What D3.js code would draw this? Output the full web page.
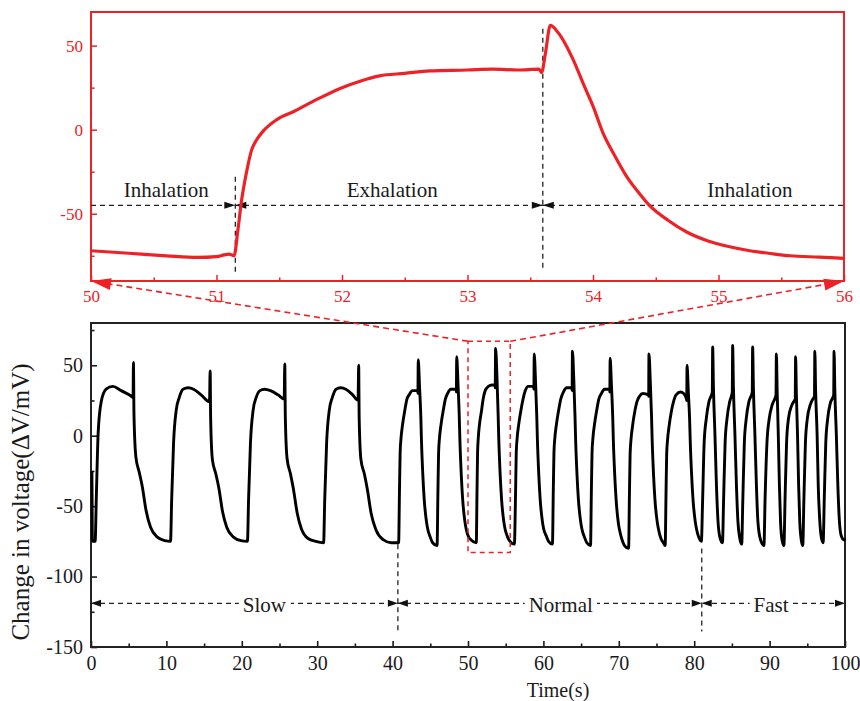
<!DOCTYPE html>
<html><head><meta charset="utf-8">
<script src="https://cdn.jsdelivr.net/npm/d3@7"></script>
<style>body{margin:0;background:#fff}svg{display:block}</style>
</head><body>
<svg id="c" width="860" height="701"></svg>
<script>
// ---------------- DATA ----------------
// zoomed detail (50–56 s): [time s, ΔV mV]
const detailTrace = [
[50.0,-72],[50.3,-73.5],[50.6,-75],[50.85,-76],[51.0,-75.5],[51.06,-74.5],[51.1,-74],[51.14,-75],
[51.17,-60],[51.2,-42],[51.24,-25],[51.28,-12],[51.32,-6],[51.37,-1],[51.48,6],[51.62,11],[51.8,18],
[52.0,25],[52.15,29],[52.3,32],[52.5,33.5],[52.7,35],[53.0,35.5],[53.2,36],[53.4,35.5],[53.57,36],
[53.59,34],[53.62,45],[53.66,62],[53.72,58],[53.84,42],[53.93,26],[54.0,14],[54.08,-2],[54.17,-15],
[54.27,-28],[54.36,-37],[54.45,-45],[54.6,-54],[54.75,-61],[54.91,-66],[55.08,-69.5],[55.25,-72],
[55.4,-73.5],[55.57,-75],[55.8,-75.8],[56.0,-76.5]
];
// full record (0–100 s): [time s, ΔV mV]
const overviewTrace = [
// slow
[0.12,-25],[0.18,-74],[0.55,-75],[0.7,-45],[0.95,2],[1.35,24],[2.0,33],[2.9,35],[4.0,32],[5.35,28],[5.58,27],[5.63,52],[5.7,15],[5.95,-15],[6.4,-26],[6.8,-36],[7.3,-53],[7.9,-65],[8.8,-72],[9.8,-74.5],[10.55,-75],
[10.7,-45],[10.95,-5],[11.3,18],[11.7,27],[12.2,33],[12.9,34],[13.6,33],[14.6,29],[15.72,24],[15.8,46],[15.87,12],[16.1,-17],[16.55,-27],[16.95,-37],[17.45,-54],[18.0,-65],[18.9,-72],[19.9,-74.5],[20.75,-75],
[20.9,-45],[21.15,-5],[21.5,18],[21.9,27],[22.4,32],[23.0,33],[23.8,32],[24.8,29],[25.62,26],[25.7,51],[25.77,14],[26.0,-16],[26.45,-27],[26.85,-38],[27.35,-55],[27.9,-66],[28.8,-73],[29.8,-75],[30.85,-76],
[31.0,-45],[31.25,-5],[31.6,18],[32.0,27],[32.5,33],[33.1,34],[33.8,33],[34.7,29],[35.42,25],[35.5,50],[35.57,12],[35.8,-17],[36.25,-27],[36.65,-38],[37.15,-55],[37.8,-67],[38.8,-74],[39.8,-76],[40.8,-76],
// normal
[40.91,-40],[41.0,-12],[41.13,-1],[41.3,7],[41.65,19],[41.9,26],[42.2,29],[42.6,32],[43.33,32],[43.36,30],[43.4,54],[43.58,34],[43.74,14],[43.82,-2],[44.01,-28],[44.19,-45],[44.49,-61],[44.65,-66],[44.99,-72],[45.31,-76],[45.9,-78],
[46.01,-40],[46.1,-12],[46.23,-1],[46.4,7],[46.75,19],[47.0,26],[47.3,30],[47.7,33],[48.43,33],[48.46,31],[48.5,56],[48.68,36],[48.84,14],[48.92,-2],[49.11,-28],[49.29,-45],[49.59,-61],[49.75,-66],[50.09,-72],[50.41,-74],[51.1,-76],
[51.19,-42],[51.27,-12],[51.37,-1],[51.48,6],[51.8,18],[52.01,26],[52.28,32],[52.7,35],[53.2,36],[53.57,36],[53.61,34],[53.66,62],[53.84,42],[54.0,14],[54.08,-2],[54.27,-28],[54.45,-45],[54.75,-61],[54.91,-66],[55.25,-72],[55.57,-75],[56.15,-77],
[56.31,-40],[56.4,-12],[56.53,-1],[56.7,7],[57.05,19],[57.3,26],[57.6,32],[58.0,35],[58.71,35],[58.74,33],[58.78,58],[58.96,38],[59.12,14],[59.2,-2],[59.39,-28],[59.57,-45],[59.87,-61],[60.03,-66],[60.37,-71],[60.69,-75],[61.2,-77],
[61.31,-40],[61.4,-12],[61.53,-1],[61.7,7],[62.05,19],[62.3,26],[62.65,31],[63.1,34],[63.78,34],[63.81,32],[63.85,60],[64.03,40],[64.19,14],[64.27,-2],[64.46,-28],[64.64,-45],[64.94,-61],[65.1,-66],[65.44,-72],[65.76,-76],[66.25,-78],
[66.36,-40],[66.45,-12],[66.58,-1],[66.75,7],[67.1,19],[67.35,26],[67.7,30],[68.1,33],[68.78,33],[68.81,31],[68.85,55],[69.03,35],[69.19,14],[69.27,-2],[69.46,-28],[69.64,-45],[69.94,-62],[70.1,-67],[70.44,-74],[70.76,-78],[71.3,-80],
[71.41,-42],[71.5,-13],[71.63,-2],[71.8,6],[72.15,18],[72.4,24],[72.75,28],[73.2,30],[73.93,29],[73.96,28],[74.0,58],[74.18,38],[74.34,14],[74.42,-2],[74.61,-28],[74.79,-45],[75.09,-61],[75.25,-66],[75.59,-73],[75.91,-76],[76.15,-78],
[76.26,-42],[76.35,-13],[76.48,-2],[76.65,6],[77.0,18],[77.25,24],[77.6,29],[78.2,31],[78.6,30],[78.98,26],[79.01,25],[79.05,50],[79.23,30],[79.39,12],[79.47,-3],[79.66,-28],[79.84,-45],[80.14,-61],[80.3,-66],[80.6,-72],[80.95,-75],
// fast
[81.12,-45],[81.32,-5],[81.6,12],[81.95,24],[82.3,29],[82.4,31],[82.45,63],[82.55,35],[82.75,1],[82.95,-35],[83.15,-60],[83.4,-72],[83.75,-76],
[83.9,-45],[84.1,-5],[84.35,12],[84.7,24],[84.98,29],[85.05,31],[85.1,64],[85.2,35],[85.4,1],[85.6,-35],[85.8,-61],[86.05,-73],[86.3,-77],
[86.45,-45],[86.65,-5],[86.9,12],[87.25,24],[87.6,29],[87.7,31],[87.75,63],[87.85,35],[88.05,1],[88.25,-35],[88.45,-61],[88.8,-74],[89.25,-78],
[89.4,-45],[89.65,-5],[89.95,12],[90.35,22],[90.75,27],[90.85,29],[90.9,58],[91.0,33],[91.15,1],[91.3,-35],[91.45,-61],[91.65,-74],[91.9,-78],
[92.05,-45],[92.25,-5],[92.5,12],[92.9,21],[93.3,25],[93.4,26],[93.45,56],[93.55,30],[93.7,1],[93.85,-35],[94.0,-61],[94.2,-74],[94.4,-78],
[94.55,-45],[94.75,-5],[95.0,12],[95.4,22],[95.85,27],[95.95,28],[96.0,60],[96.1,33],[96.3,1],[96.45,-35],[96.65,-60],[96.85,-72],[97.1,-76],
[97.25,-45],[97.45,-5],[97.7,12],[98.05,23],[98.45,28],[98.5,29],[98.55,60],[98.65,33],[98.85,1],[99.05,-35],[99.25,-60],[99.5,-71],[99.9,-74],[100,-73]
];
const detailXTicks = [50,51,52,53,54,55,56];
const detailXMinor = [50.5,51.5,52.5,53.5,54.5,55.5];
const detailYTicks = [-50,0,50];
const detailYMinor = [-75,-25,25];
const overviewXTicks = [0,10,20,30,40,50,60,70,80,90,100];
const overviewXMinor = [5,15,25,35,45,55,65,75,85,95];
const overviewYTicks = [-150,-100,-50,0,50];
const overviewYMinor = [-125,-75,-25,25,75];
const detailPhaseLabels = ["Inhalation","Exhalation","Inhalation"];
const detailPhaseBounds = [50,51.15,53.6,56];
const overviewPhaseLabels = ["Slow","Normal","Fast"];
const overviewPhaseBounds = [0,40.7,81,100];
const zoomWindowX = [50,55.6];
const zoomWindowY = [-83,67];

// ---------------- DRAW ----------------
const svg = d3.select("#c");
const RED = "#ec2227";
const FONT = "'Liberation Serif','Times New Roman',serif";
const fmt = d => String(d);

const dM = {l:91,t:12,r:844,b:281};
const dx = d3.scaleLinear().domain([50,56]).range([dM.l,dM.r]);
const dy = d3.scaleLinear().domain([-90,70]).range([dM.b,dM.t]);
const oM = {l:91,t:323,r:845,b:647};
const ox = d3.scaleLinear().domain([0,100]).range([oM.l,oM.r]);
const oy = d3.scaleLinear().domain([-150,80]).range([oM.b,oM.t]);

function styleAxis(g,color,size,lw){
  g.select(".domain").remove();
  g.selectAll(".tick line").attr("stroke",color).attr("stroke-width",lw);
  g.selectAll(".tick text").attr("fill",color).attr("font-size",size).attr("font-family",FONT);
}
function tri(px,py,dir,len,hw){ // horizontal arrowhead, tip at px
  return `M${px},${py}L${px-dir*len},${py-hw}L${px-dir*len},${py+hw}Z`;
}

// ===== detail panel (red) =====
const gD = svg.append("g");
styleAxis(gD.append("g").attr("transform",`translate(0,${dM.b})`)
  .call(d3.axisBottom(dx).tickValues(detailXTicks).tickSize(-6).tickPadding(9).tickFormat(fmt)),RED,17,1.5);
styleAxis(gD.append("g").attr("transform",`translate(0,${dM.b})`)
  .call(d3.axisBottom(dx).tickValues(detailXMinor).tickSize(-3.5).tickFormat("")),RED,17,1.5);
styleAxis(gD.append("g").attr("transform",`translate(${dM.l},0)`)
  .call(d3.axisLeft(dy).tickValues(detailYTicks).tickSize(-6).tickPadding(8).tickFormat(fmt)),RED,17,1.5);
styleAxis(gD.append("g").attr("transform",`translate(${dM.l},0)`)
  .call(d3.axisLeft(dy).tickValues(detailYMinor).tickSize(-3.5).tickFormat("")),RED,17,1.5);
gD.append("rect").attr("x",dM.l).attr("y",dM.t).attr("width",dM.r-dM.l).attr("height",dM.b-dM.t)
  .attr("fill","none").attr("stroke",RED).attr("stroke-width",2);

// phase annotations (detail)
const dArrowY = dy(-45);
gD.append("line").attr("x1",dM.l).attr("x2",dM.r).attr("y1",dArrowY).attr("y2",dArrowY)
  .attr("stroke","#222").attr("stroke-width",1.3).attr("stroke-dasharray","5,4");
const dVert = [[detailPhaseBounds[1],-28,-85],[detailPhaseBounds[2],60,-84]];
dVert.forEach(([t,a,b])=>{
  gD.append("line").attr("x1",dx(t)).attr("x2",dx(t)).attr("y1",dy(a)).attr("y2",dy(b))
    .attr("stroke","#222").attr("stroke-width",1.3).attr("stroke-dasharray","5,4");
  gD.append("path").attr("d",tri(dx(t),dArrowY,1,11,3.5)).attr("fill","#111");
  gD.append("path").attr("d",tri(dx(t),dArrowY,-1,11,3.5)).attr("fill","#111");
});
const detailLabelX = [50.6,52.4,55.25];
detailPhaseLabels.forEach((lab,i)=>{
  gD.append("text").attr("x",dx(detailLabelX[i])).attr("y",dy(-40)).attr("text-anchor","middle")
    .attr("font-family",FONT).attr("font-size",21).attr("fill","#1a1a1a").text(lab);
});

gD.append("path").datum(detailTrace)
  .attr("d",d3.line().x(d=>dx(d[0])).y(d=>dy(d[1])).curve(d3.curveMonotoneX))
  .attr("fill","none").attr("stroke",RED).attr("stroke-width",3.2).attr("stroke-linejoin","round");

// ===== overview panel (black) =====
const gO = svg.append("g");
const INK = "#1a1a1a";
styleAxis(gO.append("g").attr("transform",`translate(0,${oM.b})`)
  .call(d3.axisBottom(ox).tickValues(overviewXTicks).tickSize(-6).tickPadding(9).tickFormat(fmt)),INK,20,1.6);
styleAxis(gO.append("g").attr("transform",`translate(0,${oM.b})`)
  .call(d3.axisBottom(ox).tickValues(overviewXMinor).tickSize(-3.5).tickFormat("")),INK,20,1.6);
styleAxis(gO.append("g").attr("transform",`translate(${oM.l},0)`)
  .call(d3.axisLeft(oy).tickValues(overviewYTicks).tickSize(-6).tickPadding(8).tickFormat(fmt)),INK,20,1.6);
styleAxis(gO.append("g").attr("transform",`translate(${oM.l},0)`)
  .call(d3.axisLeft(oy).tickValues(overviewYMinor).tickSize(-3.5).tickFormat("")),INK,20,1.6);
gO.append("rect").attr("x",oM.l).attr("y",oM.t).attr("width",oM.r-oM.l).attr("height",oM.b-oM.t)
  .attr("fill","none").attr("stroke","#222").attr("stroke-width",2);

svg.append("text").attr("x",(oM.l+oM.r)/2+90).attr("y",697).attr("text-anchor","middle")
  .attr("font-family",FONT).attr("font-size",20).attr("fill",INK).text("Time(s)");
svg.append("text").attr("transform",`translate(29,${502}) rotate(-90)`).attr("text-anchor","middle")
  .attr("font-family",FONT).attr("font-size",25).attr("fill",INK).text("Change in voltage(ΔV/mV)");

// phase annotations (overview)
const oArrowY = oy(-119);
const gAnn = gO.append("g");
gAnn.append("line").attr("x1",oM.l).attr("x2",oM.r).attr("y1",oArrowY).attr("y2",oArrowY)
  .attr("stroke","#222").attr("stroke-width",1.3).attr("stroke-dasharray","5,4");
const gMask = gAnn.append("g");
gAnn.append("path").attr("d",tri(ox(0),oArrowY,-1,10,3.5)).attr("fill","#111");
gAnn.append("path").attr("d",tri(ox(100),oArrowY,1,10,3.5)).attr("fill","#111");
[[overviewPhaseBounds[1],-77],[overviewPhaseBounds[2],-80]].forEach(([t,a])=>{
  gAnn.append("line").attr("x1",ox(t)).attr("x2",ox(t)).attr("y1",oy(a)).attr("y2",oy(-139))
    .attr("stroke","#222").attr("stroke-width",1.3).attr("stroke-dasharray","5,4");
  gAnn.append("path").attr("d",tri(ox(t),oArrowY,1,10,3.5)).attr("fill","#111");
  gAnn.append("path").attr("d",tri(ox(t),oArrowY,-1,10,3.5)).attr("fill","#111");
});
const overviewLabelX = [23,62.3,90.2];
overviewPhaseLabels.forEach((lab,i)=>{
  const t = gAnn.append("text").attr("x",ox(overviewLabelX[i])).attr("y",oy(-125)).attr("text-anchor","middle")
    .attr("font-family",FONT).attr("font-size",21).attr("fill",INK).text(lab);
  const bb = t.node().getBBox();
  gMask.append("rect").attr("x",bb.x-4).attr("y",oArrowY-4).attr("width",bb.width+8).attr("height",8).attr("fill","#fff");
});

gO.append("path").datum(overviewTrace)
  .attr("d",d3.line().x(d=>ox(d[0])).y(d=>oy(d[1])).curve(d3.curveMonotoneX))
  .attr("fill","none").attr("stroke","#000").attr("stroke-width",2.9).attr("stroke-linejoin","round");

// ===== zoom window + connectors (red dashed) =====
const gZ = svg.append("g");
gZ.append("rect").attr("x",ox(zoomWindowX[0])).attr("y",oy(zoomWindowY[1]))
  .attr("width",ox(zoomWindowX[1])-ox(zoomWindowX[0])).attr("height",oy(zoomWindowY[0])-oy(zoomWindowY[1]))
  .attr("fill","none").attr("stroke",RED).attr("stroke-width",1.5).attr("stroke-dasharray","5,4");
[[ox(zoomWindowX[0]),dx(50)],[ox(zoomWindowX[1]),dx(56)]].forEach(([bx,tx])=>{
  const x0=bx,y0=oy(zoomWindowY[1]),x1=tx,y1=dy(-90);
  gZ.append("line").attr("x1",x0).attr("y1",y0).attr("x2",x1).attr("y2",y1)
    .attr("stroke",RED).attr("stroke-width",1.6).attr("stroke-dasharray","6,4");
  const L=Math.hypot(x1-x0,y1-y0), ux=(x1-x0)/L, uy=(y1-y0)/L, len=20, hw=6;
  const bxp=x1-ux*len, byp=y1-uy*len;
  gZ.append("path").attr("d",`M${x1},${y1}L${bxp-uy*hw},${byp+ux*hw}L${bxp+uy*hw},${byp-ux*hw}Z`).attr("fill",RED);
});
</script>
</body></html>
